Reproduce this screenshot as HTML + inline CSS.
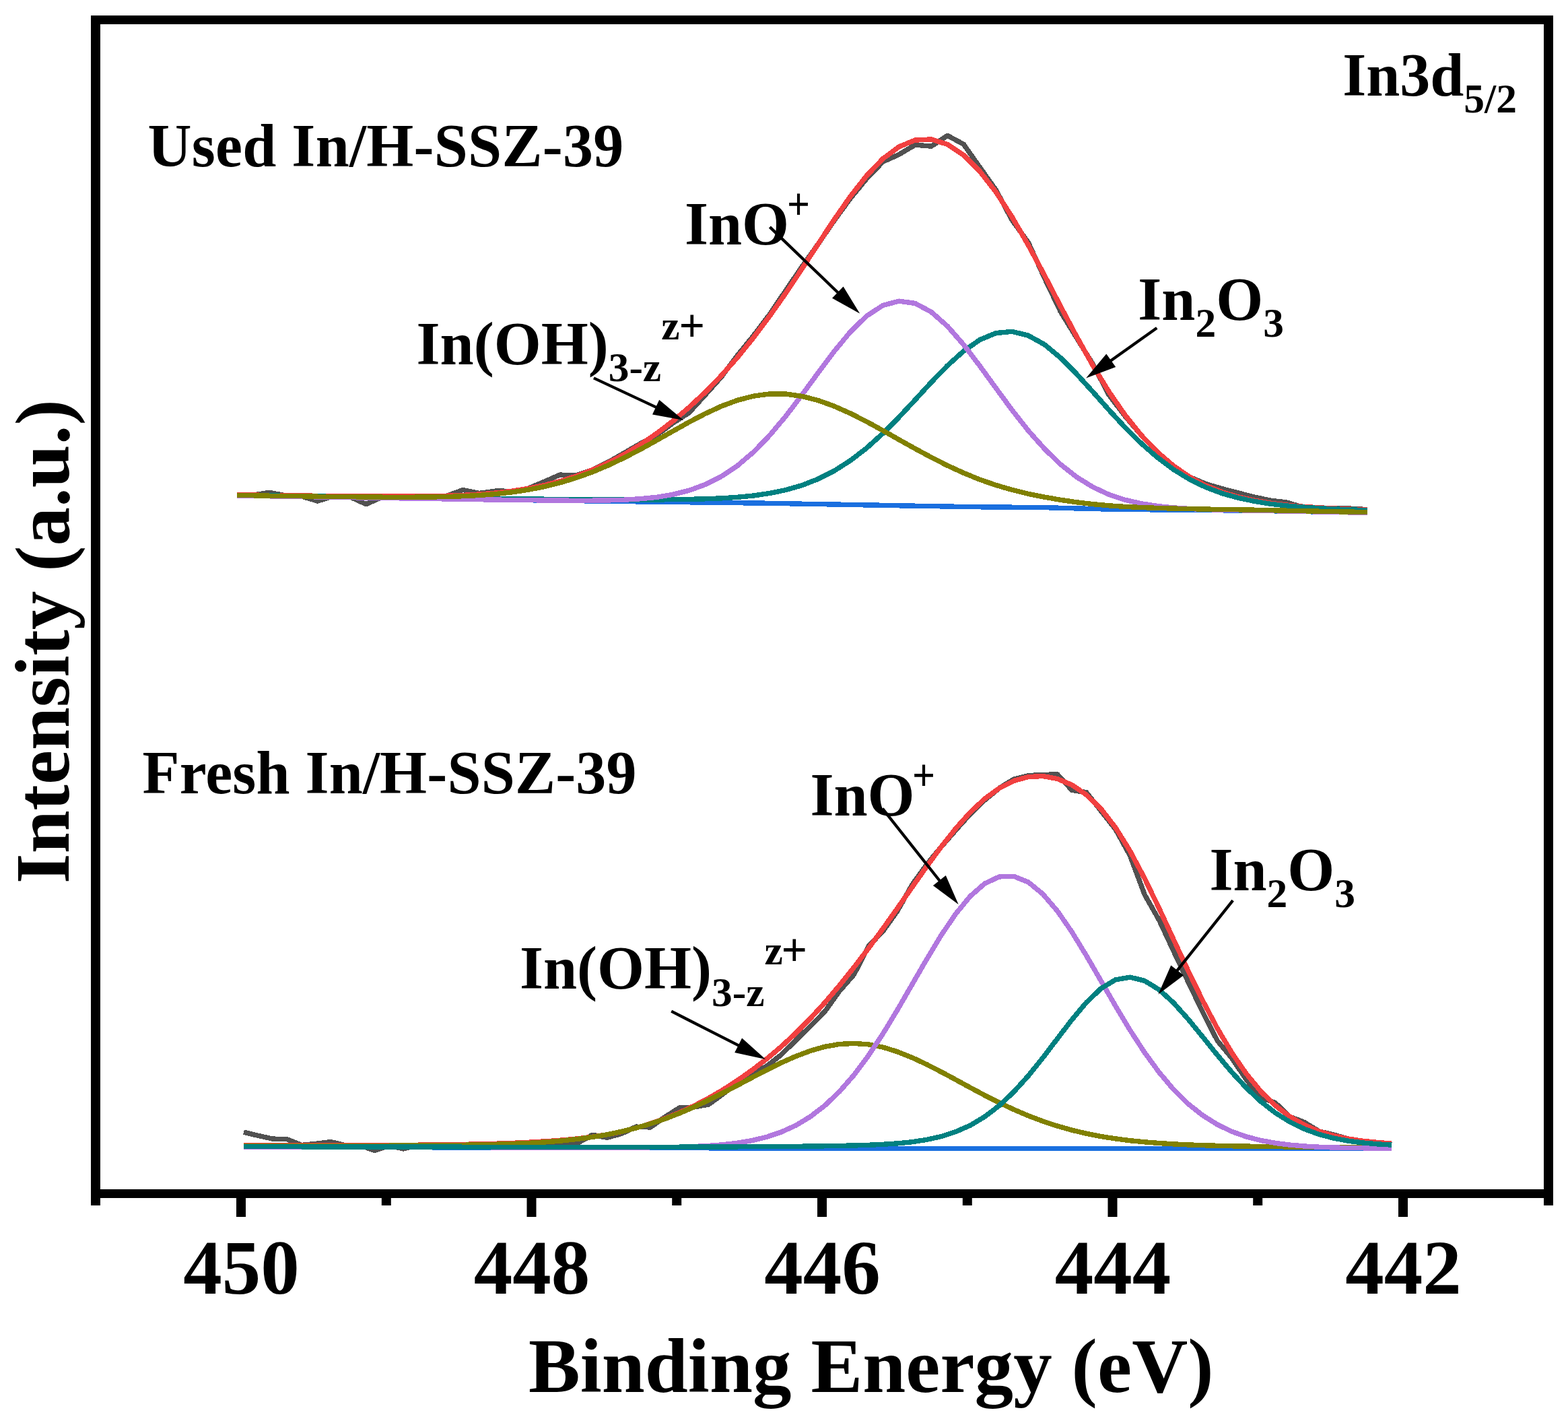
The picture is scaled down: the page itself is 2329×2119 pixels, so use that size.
<!DOCTYPE html>
<html lang="en">
<head>
<meta charset="utf-8">
<title>In3d5/2 XPS spectra</title>
<style>
html,body{margin:0;padding:0;background:#fff;}
body{width:2329px;height:2119px;overflow:hidden;}
svg{display:block;}
</style>
</head>
<body>
<svg xmlns="http://www.w3.org/2000/svg" width="2329" height="2119" viewBox="0 0 2329 2119">
<rect x="0" y="0" width="2329" height="2119" fill="#ffffff"/>
<g fill="none" stroke-width="7.4" stroke-linejoin="round" stroke-linecap="butt" shape-rendering="crispEdges">
<path stroke="#515151" d="M351.9,734.8 L375.9,735.1 L399.9,731.4 L423.9,735.7 L447.8,737.0 L471.8,744.1 L495.8,736.6 L519.8,737.8 L543.8,748.7 L567.8,738.1 L591.8,737.1 L615.8,736.6 L639.7,736.8 L663.7,736.2 L687.7,727.5 L711.7,732.5 L735.7,729.1 L759.7,729.3 L783.7,725.6 L807.7,715.6 L831.6,705.1 L855.6,706.0 L879.6,697.9 L903.6,686.1 L927.6,672.4 L951.6,658.4 L975.6,646.0 L999.6,628.2 L1023.5,612.9 L1047.5,586.5 L1071.5,559.7 L1095.5,527.6 L1119.5,498.0 L1143.5,466.4 L1167.5,430.8 L1191.4,395.8 L1215.4,362.0 L1239.4,327.1 L1263.4,294.2 L1287.4,265.2 L1311.4,240.2 L1335.4,229.4 L1359.4,215.1 L1383.3,217.2 L1407.3,201.3 L1431.3,214.3 L1455.3,248.3 L1479.3,282.1 L1503.3,327.0 L1527.3,359.9 L1551.3,412.6 L1575.2,462.7 L1599.2,501.8 L1623.2,540.6 L1647.2,586.6 L1671.2,618.0 L1695.2,646.3 L1719.2,671.4 L1743.2,691.9 L1767.1,708.3 L1791.1,718.6 L1815.1,725.7 L1839.1,731.9 L1863.1,738.1 L1887.1,743.1 L1911.1,746.0 L1935.1,753.2 L1959.0,753.8 L1983.0,755.1 L2007.0,755.2 L2031.0,756.6"/>
<path stroke="#F14040" d="M351.9,734.8 L375.9,735.1 L399.9,735.4 L423.9,735.7 L447.8,736.0 L471.8,736.3 L495.8,736.6 L519.8,736.8 L543.8,737.0 L567.8,737.1 L591.8,737.1 L615.8,737.1 L639.7,736.8 L663.7,736.2 L687.7,735.4 L711.7,734.0 L735.7,732.1 L759.7,729.3 L783.7,725.6 L807.7,720.8 L831.6,714.7 L855.6,707.1 L879.6,697.9 L903.6,687.1 L927.6,674.4 L951.6,659.9 L975.6,643.5 L999.6,625.2 L1023.5,604.9 L1047.5,582.5 L1071.5,557.7 L1095.5,530.6 L1119.5,501.0 L1143.5,468.9 L1167.5,434.8 L1191.4,398.8 L1215.4,362.0 L1239.4,325.6 L1263.4,291.2 L1287.4,260.7 L1311.4,235.7 L1335.4,217.8 L1359.4,208.1 L1383.3,206.9 L1407.3,214.4 L1431.3,230.4 L1455.3,254.3 L1479.3,285.2 L1503.3,322.2 L1527.3,363.9 L1551.3,408.6 L1575.2,454.7 L1599.2,499.8 L1623.2,542.6 L1647.2,581.8 L1671.2,616.5 L1695.2,646.3 L1719.2,671.4 L1743.2,691.9 L1767.1,708.3 L1791.1,721.1 L1815.1,730.7 L1839.1,737.9 L1863.1,743.1 L1887.1,747.1 L1911.1,750.0 L1935.1,752.2 L1959.0,753.8 L1983.0,755.1 L2007.0,756.2 L2031.0,757.1"/>
<path stroke="#1A6FDF" d="M351.9,736.0 L375.9,736.4 L399.9,736.8 L423.9,737.1 L447.8,737.5 L471.8,737.9 L495.8,738.3 L519.8,738.7 L543.8,739.0 L567.8,739.4 L591.8,739.8 L615.8,740.2 L639.7,740.6 L663.7,740.9 L687.7,741.3 L711.7,741.7 L735.7,742.1 L759.7,742.4 L783.7,742.7 L807.7,743.0 L831.6,743.3 L855.6,743.6 L879.6,744.0 L903.6,744.3 L927.6,744.6 L951.6,744.9 L975.6,745.2 L999.6,745.5 L1023.5,745.8 L1047.5,746.1 L1071.5,746.4 L1095.5,746.7 L1119.5,747.0 L1143.5,747.3 L1167.5,747.7 L1191.4,748.2 L1215.4,748.6 L1239.4,749.0 L1263.4,749.5 L1287.4,749.9 L1311.4,750.3 L1335.4,750.8 L1359.4,751.2 L1383.3,751.6 L1407.3,752.0 L1431.3,752.5 L1455.3,752.8 L1479.3,753.0 L1503.3,753.2 L1527.3,753.4 L1551.3,753.6 L1575.2,754.3 L1599.2,754.9 L1623.2,755.5 L1647.2,756.1 L1671.2,756.5 L1695.2,756.7 L1719.2,756.9 L1743.2,757.2 L1767.1,757.4 L1791.1,757.6 L1815.1,757.8 L1839.1,758.0 L1863.1,758.3 L1887.1,758.7 L1911.1,759.1 L1935.1,759.6 L1959.0,760.0 L1983.0,760.4 L2007.0,760.9 L2031.0,761.3"/>
<path stroke="#008080" d="M351.9,735.3 L375.9,735.7 L399.9,736.0 L423.9,736.3 L447.8,736.7 L471.8,737.0 L495.8,737.4 L519.8,737.7 L543.8,738.0 L567.8,738.4 L591.8,738.7 L615.8,739.0 L639.7,739.3 L663.7,739.6 L687.7,739.9 L711.7,740.2 L735.7,740.5 L759.7,740.8 L783.7,741.0 L807.7,741.2 L831.6,741.4 L855.6,741.5 L879.6,741.7 L903.6,741.8 L927.6,741.9 L951.6,741.9 L975.6,741.9 L999.6,741.7 L1023.5,741.4 L1047.5,740.8 L1071.5,739.9 L1095.5,738.3 L1119.5,736.0 L1143.5,732.4 L1167.5,727.5 L1191.4,720.6 L1215.4,711.2 L1239.4,699.0 L1263.4,683.7 L1287.4,665.2 L1311.4,643.5 L1335.4,619.4 L1359.4,593.7 L1383.3,567.6 L1407.3,542.9 L1431.3,521.3 L1455.3,504.6 L1479.3,494.6 L1503.3,492.3 L1527.3,498.2 L1551.3,511.5 L1575.2,531.3 L1599.2,555.4 L1623.2,581.8 L1647.2,608.8 L1671.2,634.7 L1695.2,658.4 L1719.2,679.4 L1743.2,697.3 L1767.1,711.9 L1791.1,723.6 L1815.1,732.6 L1839.1,739.3 L1863.1,744.3 L1887.1,748.2 L1911.1,751.0 L1935.1,753.0 L1959.0,754.6 L1983.0,755.9 L2007.0,756.9 L2031.0,757.7"/>
<path stroke="#B177DE" d="M351.9,736.0 L375.9,736.4 L399.9,736.8 L423.9,737.1 L447.8,737.5 L471.8,737.9 L495.8,738.3 L519.8,738.7 L543.8,739.0 L567.8,739.4 L591.8,739.8 L615.8,740.2 L639.7,740.6 L663.7,740.9 L687.7,741.3 L711.7,741.7 L735.7,742.1 L759.7,742.4 L783.7,742.7 L807.7,742.9 L831.6,743.1 L855.6,743.3 L879.6,743.2 L903.6,742.9 L927.6,742.2 L951.6,740.7 L975.6,738.3 L999.6,734.3 L1023.5,728.3 L1047.5,719.5 L1071.5,707.4 L1095.5,691.4 L1119.5,671.0 L1143.5,646.2 L1167.5,617.6 L1191.4,586.1 L1215.4,553.3 L1239.4,521.3 L1263.4,492.4 L1287.4,469.1 L1311.4,453.5 L1335.4,447.1 L1359.4,450.5 L1383.3,463.3 L1407.3,484.4 L1431.3,511.8 L1455.3,543.3 L1479.3,576.3 L1503.3,609.0 L1527.3,639.4 L1551.3,666.3 L1575.2,689.5 L1599.2,708.4 L1623.2,723.2 L1647.2,734.4 L1671.2,742.3 L1695.2,747.8 L1719.2,751.5 L1743.2,753.9 L1767.1,755.5 L1791.1,756.6 L1815.1,757.2 L1839.1,757.7 L1863.1,758.1 L1887.1,758.6 L1911.1,759.1 L1935.1,759.5 L1959.0,760.0 L1983.0,760.4 L2007.0,760.9 L2031.0,761.3"/>
<path stroke="#808000" d="M351.9,735.5 L375.9,735.8 L399.9,736.2 L423.9,736.5 L447.8,736.8 L471.8,737.2 L495.8,737.5 L519.8,737.7 L543.8,738.0 L567.8,738.2 L591.8,738.2 L615.8,738.2 L639.7,738.0 L663.7,737.5 L687.7,736.7 L711.7,735.5 L735.7,733.6 L759.7,731.0 L783.7,727.4 L807.7,722.8 L831.6,716.9 L855.6,709.6 L879.6,701.0 L903.6,690.9 L927.6,679.5 L951.6,667.0 L975.6,653.7 L999.6,640.2 L1023.5,626.8 L1047.5,614.3 L1071.5,603.2 L1095.5,594.3 L1119.5,588.1 L1143.5,584.9 L1167.5,585.1 L1191.4,588.5 L1215.4,594.6 L1239.4,603.3 L1263.4,614.0 L1287.4,626.2 L1311.4,639.3 L1335.4,652.9 L1359.4,666.3 L1383.3,679.2 L1407.3,691.3 L1431.3,702.3 L1455.3,712.1 L1479.3,720.4 L1503.3,727.4 L1527.3,733.3 L1551.3,738.1 L1575.2,742.3 L1599.2,745.8 L1623.2,748.6 L1647.2,750.8 L1671.2,752.4 L1695.2,753.5 L1719.2,754.4 L1743.2,755.1 L1767.1,755.6 L1791.1,756.1 L1815.1,756.5 L1839.1,756.8 L1863.1,757.2 L1887.1,757.7 L1911.1,758.2 L1935.1,758.7 L1959.0,759.2 L1983.0,759.7 L2007.0,760.1 L2031.0,760.6"/>
</g>
<g fill="none" stroke-width="7.4" stroke-linejoin="round" stroke-linecap="butt" shape-rendering="crispEdges">
<path stroke="#515151" d="M361.9,1681.2 L383.5,1686.4 L405.1,1691.1 L426.7,1691.8 L448.2,1700.4 L469.8,1698.2 L491.4,1695.6 L513.0,1700.8 L534.6,1700.7 L556.2,1708.4 L577.7,1701.5 L599.3,1705.9 L620.9,1700.2 L642.5,1700.0 L664.1,1699.7 L685.7,1699.4 L707.2,1699.0 L728.8,1698.5 L750.4,1697.8 L772.0,1696.9 L793.6,1695.8 L815.2,1697.5 L836.7,1697.5 L858.3,1697.2 L879.9,1685.2 L901.5,1689.3 L923.1,1683.5 L944.7,1673.1 L966.2,1674.0 L987.8,1658.5 L1009.4,1644.9 L1031.0,1644.0 L1052.6,1640.0 L1074.2,1624.4 L1095.7,1607.2 L1117.3,1594.9 L1138.9,1583.1 L1160.5,1566.1 L1182.1,1544.9 L1203.7,1523.7 L1225.2,1502.0 L1246.8,1471.9 L1268.4,1447.3 L1290.0,1405.2 L1311.6,1382.8 L1333.2,1352.4 L1354.7,1314.0 L1376.3,1283.9 L1397.9,1257.6 L1419.5,1232.9 L1441.1,1208.8 L1462.7,1188.1 L1484.2,1170.4 L1505.8,1157.0 L1527.4,1151.6 L1549.0,1150.5 L1570.6,1149.8 L1592.2,1173.4 L1613.7,1176.7 L1635.3,1204.1 L1656.9,1231.4 L1678.5,1270.7 L1700.1,1328.3 L1721.7,1366.4 L1743.2,1412.5 L1764.8,1458.0 L1786.4,1502.9 L1808.0,1545.1 L1829.6,1571.2 L1851.2,1603.2 L1872.7,1630.0 L1894.3,1637.7 L1915.9,1658.1 L1937.5,1666.6 L1959.1,1679.8 L1980.7,1684.9 L2002.2,1691.0 L2023.8,1694.2 L2045.4,1696.4 L2067.0,1700.0"/>
<path stroke="#F14040" d="M361.9,1701.1 L383.5,1701.1 L405.1,1701.0 L426.7,1701.0 L448.2,1700.9 L469.8,1700.9 L491.4,1700.8 L513.0,1700.8 L534.6,1700.7 L556.2,1700.6 L577.7,1700.5 L599.3,1700.3 L620.9,1700.2 L642.5,1700.0 L664.1,1699.7 L685.7,1699.4 L707.2,1699.0 L728.8,1698.5 L750.4,1697.8 L772.0,1696.9 L793.6,1695.8 L815.2,1694.5 L836.7,1692.9 L858.3,1690.8 L879.9,1688.2 L901.5,1684.8 L923.1,1680.5 L944.7,1675.1 L966.2,1668.5 L987.8,1660.9 L1009.4,1652.0 L1031.0,1642.0 L1052.6,1630.7 L1074.2,1618.1 L1095.7,1604.2 L1117.3,1588.9 L1138.9,1572.3 L1160.5,1554.1 L1182.1,1534.1 L1203.7,1512.3 L1225.2,1488.8 L1246.8,1463.5 L1268.4,1436.5 L1290.0,1408.2 L1311.6,1378.8 L1333.2,1348.4 L1354.7,1317.5 L1376.3,1286.9 L1397.9,1257.6 L1419.5,1230.4 L1441.1,1206.3 L1462.7,1186.1 L1484.2,1170.4 L1505.8,1159.5 L1527.4,1153.6 L1549.0,1152.5 L1570.6,1156.5 L1592.2,1165.6 L1613.7,1180.2 L1635.3,1201.1 L1656.9,1228.9 L1678.5,1263.7 L1700.1,1304.3 L1721.7,1348.8 L1743.2,1395.2 L1764.8,1441.5 L1786.4,1485.8 L1808.0,1526.7 L1829.6,1563.2 L1851.2,1594.5 L1872.7,1620.6 L1894.3,1641.7 L1915.9,1658.1 L1937.5,1670.6 L1959.1,1679.8 L1980.7,1686.4 L2002.2,1691.0 L2023.8,1694.2 L2045.4,1696.4 L2067.0,1698.0"/>
<path stroke="#1A6FDF" d="M361.9,1703.0 L383.5,1703.1 L405.1,1703.1 L426.7,1703.2 L448.2,1703.2 L469.8,1703.3 L491.4,1703.4 L513.0,1703.4 L534.6,1703.5 L556.2,1703.5 L577.7,1703.6 L599.3,1703.6 L620.9,1703.7 L642.5,1703.8 L664.1,1703.8 L685.7,1703.9 L707.2,1703.9 L728.8,1704.0 L750.4,1704.1 L772.0,1704.1 L793.6,1704.2 L815.2,1704.2 L836.7,1704.3 L858.3,1704.4 L879.9,1704.4 L901.5,1704.5 L923.1,1704.5 L944.7,1704.6 L966.2,1704.6 L987.8,1704.7 L1009.4,1704.7 L1031.0,1704.7 L1052.6,1704.8 L1074.2,1704.8 L1095.7,1704.9 L1117.3,1704.9 L1138.9,1704.9 L1160.5,1705.0 L1182.1,1705.0 L1203.7,1705.0 L1225.2,1705.1 L1246.8,1705.1 L1268.4,1705.2 L1290.0,1705.2 L1311.6,1705.2 L1333.2,1705.3 L1354.7,1705.3 L1376.3,1705.3 L1397.9,1705.3 L1419.5,1705.3 L1441.1,1705.3 L1462.7,1705.3 L1484.2,1705.3 L1505.8,1705.3 L1527.4,1705.3 L1549.0,1705.3 L1570.6,1705.4 L1592.2,1705.4 L1613.7,1705.4 L1635.3,1705.4 L1656.9,1705.4 L1678.5,1705.4 L1700.1,1705.4 L1721.7,1705.4 L1743.2,1705.4 L1764.8,1705.4 L1786.4,1705.4 L1808.0,1705.4 L1829.6,1705.5 L1851.2,1705.5 L1872.7,1705.5 L1894.3,1705.5 L1915.9,1705.5 L1937.5,1705.5 L1959.1,1705.5 L1980.7,1705.5 L2002.2,1705.6 L2023.8,1705.6 L2045.4,1705.6 L2067.0,1705.6"/>
<path stroke="#808000" d="M361.9,1701.6 L383.5,1701.6 L405.1,1701.6 L426.7,1701.6 L448.2,1701.5 L469.8,1701.5 L491.4,1701.5 L513.0,1701.4 L534.6,1701.4 L556.2,1701.3 L577.7,1701.2 L599.3,1701.1 L620.9,1701.0 L642.5,1700.8 L664.1,1700.6 L685.7,1700.3 L707.2,1700.0 L728.8,1699.5 L750.4,1698.8 L772.0,1698.0 L793.6,1696.9 L815.2,1695.5 L836.7,1693.7 L858.3,1691.3 L879.9,1688.4 L901.5,1684.8 L923.1,1680.3 L944.7,1675.0 L966.2,1668.7 L987.8,1661.4 L1009.4,1653.0 L1031.0,1643.7 L1052.6,1633.6 L1074.2,1622.7 L1095.7,1611.4 L1117.3,1600.0 L1138.9,1588.7 L1160.5,1578.1 L1182.1,1568.5 L1203.7,1560.4 L1225.2,1554.3 L1246.8,1550.5 L1268.4,1549.4 L1290.0,1550.9 L1311.6,1555.1 L1333.2,1561.8 L1354.7,1570.4 L1376.3,1580.5 L1397.9,1591.6 L1419.5,1603.2 L1441.1,1615.0 L1462.7,1626.5 L1484.2,1637.4 L1505.8,1647.6 L1527.4,1656.8 L1549.0,1665.0 L1570.6,1672.1 L1592.2,1678.2 L1613.7,1683.3 L1635.3,1687.5 L1656.9,1690.9 L1678.5,1693.7 L1700.1,1695.8 L1721.7,1697.5 L1743.2,1698.9 L1764.8,1699.9 L1786.4,1700.7 L1808.0,1701.3 L1829.6,1701.8 L1851.2,1702.1 L1872.7,1702.5 L1894.3,1702.7 L1915.9,1702.9 L1937.5,1703.1 L1959.1,1703.3 L1980.7,1703.4 L2002.2,1703.6 L2023.8,1703.7 L2045.4,1703.8 L2067.0,1703.9"/>
<path stroke="#B177DE" d="M361.9,1702.9 L383.5,1702.9 L405.1,1703.0 L426.7,1703.1 L448.2,1703.1 L469.8,1703.2 L491.4,1703.2 L513.0,1703.3 L534.6,1703.3 L556.2,1703.4 L577.7,1703.4 L599.3,1703.5 L620.9,1703.5 L642.5,1703.6 L664.1,1703.6 L685.7,1703.7 L707.2,1703.7 L728.8,1703.8 L750.4,1703.8 L772.0,1703.9 L793.6,1703.9 L815.2,1703.9 L836.7,1704.0 L858.3,1704.0 L879.9,1704.0 L901.5,1704.0 L923.1,1704.0 L944.7,1704.0 L966.2,1703.8 L987.8,1703.6 L1009.4,1703.2 L1031.0,1702.5 L1052.6,1701.4 L1074.2,1699.7 L1095.7,1697.2 L1117.3,1693.5 L1138.9,1688.3 L1160.5,1681.0 L1182.1,1671.1 L1203.7,1658.1 L1225.2,1641.6 L1246.8,1621.0 L1268.4,1596.3 L1290.0,1567.4 L1311.6,1534.8 L1333.2,1499.2 L1354.7,1462.0 L1376.3,1424.7 L1397.9,1389.0 L1419.5,1357.1 L1441.1,1330.9 L1462.7,1312.0 L1484.2,1301.9 L1505.8,1301.2 L1527.4,1310.0 L1549.0,1327.6 L1570.6,1352.8 L1592.2,1384.0 L1613.7,1419.2 L1635.3,1456.4 L1656.9,1493.8 L1678.5,1529.7 L1700.1,1562.9 L1721.7,1592.4 L1743.2,1617.9 L1764.8,1639.1 L1786.4,1656.3 L1808.0,1669.8 L1829.6,1680.2 L1851.2,1687.9 L1872.7,1693.5 L1894.3,1697.4 L1915.9,1700.1 L1937.5,1702.0 L1959.1,1703.2 L1980.7,1704.0 L2002.2,1704.5 L2023.8,1704.8 L2045.4,1705.0 L2067.0,1705.1"/>
<path stroke="#008080" d="M361.9,1702.6 L383.5,1702.6 L405.1,1702.7 L426.7,1702.7 L448.2,1702.8 L469.8,1702.8 L491.4,1702.9 L513.0,1702.9 L534.6,1702.9 L556.2,1703.0 L577.7,1703.0 L599.3,1703.0 L620.9,1703.1 L642.5,1703.1 L664.1,1703.1 L685.7,1703.2 L707.2,1703.2 L728.8,1703.2 L750.4,1703.2 L772.0,1703.3 L793.6,1703.3 L815.2,1703.3 L836.7,1703.3 L858.3,1703.3 L879.9,1703.3 L901.5,1703.3 L923.1,1703.3 L944.7,1703.3 L966.2,1703.3 L987.8,1703.2 L1009.4,1703.2 L1031.0,1703.1 L1052.6,1703.0 L1074.2,1702.9 L1095.7,1702.8 L1117.3,1702.7 L1138.9,1702.6 L1160.5,1702.5 L1182.1,1702.3 L1203.7,1702.1 L1225.2,1701.8 L1246.8,1701.4 L1268.4,1701.0 L1290.0,1700.3 L1311.6,1699.3 L1333.2,1697.9 L1354.7,1695.7 L1376.3,1692.4 L1397.9,1687.6 L1419.5,1680.6 L1441.1,1671.1 L1462.7,1658.2 L1484.2,1641.8 L1505.8,1621.4 L1527.4,1597.5 L1549.0,1570.7 L1570.6,1542.3 L1592.2,1514.1 L1613.7,1488.5 L1635.3,1467.9 L1656.9,1454.9 L1678.5,1451.1 L1700.1,1456.4 L1721.7,1469.6 L1743.2,1489.2 L1764.8,1513.3 L1786.4,1539.7 L1808.0,1566.5 L1829.6,1592.1 L1851.2,1615.4 L1872.7,1635.6 L1894.3,1652.5 L1915.9,1666.0 L1937.5,1676.5 L1959.1,1684.4 L1980.7,1690.1 L2002.2,1694.1 L2023.8,1696.9 L2045.4,1698.8 L2067.0,1700.1"/>
</g>
<g fill="#000000">
<rect x="135" y="23" width="2172" height="13"/>
<rect x="135" y="1766" width="2172" height="13"/>
<rect x="135" y="23" width="14" height="1767"/>
<rect x="2293" y="23" width="14" height="1767"/>
<rect x="351.0" y="1779" width="14" height="28"/>
<rect x="782.5" y="1779" width="14" height="28"/>
<rect x="1214.0" y="1779" width="14" height="28"/>
<rect x="1645.5" y="1779" width="14" height="28"/>
<rect x="2077.0" y="1779" width="14" height="28"/>
<rect x="566.8" y="1779" width="14" height="11"/>
<rect x="998.2" y="1779" width="14" height="11"/>
<rect x="1429.8" y="1779" width="14" height="11"/>
<rect x="1861.2" y="1779" width="14" height="11"/>
</g>
<g font-family="'Liberation Serif', 'Times New Roman', serif" font-weight="bold" fill="#000">
<text x="358.5" y="1921.3" font-size="115" text-anchor="middle">450</text>
<text x="790.0" y="1921.3" font-size="115" text-anchor="middle">448</text>
<text x="1221.5" y="1921.3" font-size="115" text-anchor="middle">446</text>
<text x="1653.0" y="1921.3" font-size="115" text-anchor="middle">444</text>
<text x="2084.5" y="1921.3" font-size="115" text-anchor="middle">442</text>
<text x="1293.8" y="2066.5" font-size="115" text-anchor="middle" letter-spacing="0.1">Binding Energy (eV)</text>
<text transform="translate(101.5,952.7) rotate(-90)" font-size="115" text-anchor="middle">Intensity (a.u.)</text>
<text x="219.5" y="246.7" font-size="90" letter-spacing="0.27">Used In/H-SSZ-39</text>
<text x="211.5" y="1177.6" font-size="90" letter-spacing="0.19">Fresh In/H-SSZ-39</text>
<text x="1994.2" y="142" font-size="90">In3d<tspan font-size="61.5" dy="25">5/2</tspan></text>
<text x="1017" y="363" font-size="90">InO</text>
<text transform="translate(1169.0,325.8) scale(0.879,1)" font-size="68.0">+</text>
<text x="618.6" y="540.5" font-size="90">In(OH)<tspan font-size="61.5" dy="25.5">3-z</tspan><tspan font-size="61.5" dy="-62">z</tspan></text>
<text transform="translate(1008.5,507.3) scale(0.979,1)" font-size="69.1">+</text>
<text x="1690.3" y="474.8" font-size="90">In<tspan font-size="61.5" dy="25">2</tspan><tspan dy="-25">O</tspan><tspan font-size="61.5" dy="25">3</tspan></text>
<text x="1203.5" y="1211" font-size="90">InO</text>
<text transform="translate(1355.0,1173.8) scale(0.879,1)" font-size="68.0">+</text>
<text x="772" y="1468" font-size="90">In(OH)<tspan font-size="61.5" dy="25.5">3-z</tspan><tspan font-size="61.5" dy="-62">z</tspan></text>
<text transform="translate(1160.6,1433.8) scale(0.979,1)" font-size="69.1">+</text>
<text x="1796.5" y="1321.8" font-size="90">In<tspan font-size="61.5" dy="25">2</tspan><tspan dy="-25">O</tspan><tspan font-size="61.5" dy="25">3</tspan></text>
</g>
<line x1="1143.4" y1="337.1" x2="1245.7" y2="435.5" stroke="#000" stroke-width="4.3"/><polygon fill="#000" points="1277.1,465.6 1236.0,442.7 1252.6,425.4"/>
<line x1="881.9" y1="561.4" x2="975.9" y2="605.4" stroke="#000" stroke-width="4.3"/><polygon fill="#000" points="1015.3,623.9 969.0,615.5 979.2,593.7"/>
<line x1="1718.3" y1="487.1" x2="1648.6" y2="536.4" stroke="#000" stroke-width="4.3"/><polygon fill="#000" points="1613.1,561.5 1643.3,525.4 1657.2,545.0"/>
<line x1="1310.8" y1="1200.7" x2="1396.6" y2="1309.0" stroke="#000" stroke-width="4.3"/><polygon fill="#000" points="1423.6,1343.1 1385.9,1314.9 1404.8,1300.0"/>
<line x1="997.2" y1="1501.7" x2="1098.4" y2="1553.2" stroke="#000" stroke-width="4.3"/><polygon fill="#000" points="1137.2,1572.9 1091.2,1563.0 1102.1,1541.6"/>
<line x1="1831.2" y1="1337.1" x2="1747.5" y2="1442.4" stroke="#000" stroke-width="4.3"/><polygon fill="#000" points="1720.4,1476.5 1739.3,1433.4 1758.1,1448.3"/>
</svg>
</body>
</html>
